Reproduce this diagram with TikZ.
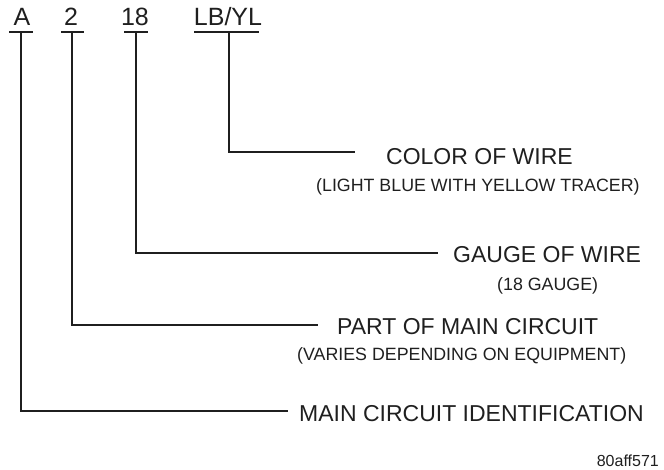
\documentclass[tikz,border=0pt]{standalone}
\usepackage{fontspec}
\setmainfont{Liberation Sans}
\begin{document}
\begin{tikzpicture}[x=1pt,y=-1pt,
  wire/.style={line width=1.8pt, black!88},
  tag/.style={font=\fontsize{25}{25}\selectfont, inner sep=0pt, anchor=base, text=black!88},
  title/.style={font=\fontsize{23}{23}\selectfont, inner sep=0pt, anchor=base west, text=black!88},
  sub/.style={font=\fontsize{17.8}{17.8}\selectfont, inner sep=0pt, anchor=base west, text=black!88},
  ref/.style={font=\fontsize{16}{16}\selectfont, inner sep=0pt, anchor=base east, text=black!88}]
\useasboundingbox (0,0) rectangle (664,469);
% top codes
\node[tag] (tA) at (22,25) {A};
\node[tag] (t2) at (71,25) {2};
\node[tag] (t18) at (135,25) {18};
\node[tag] (tLB) at (228,25) {LB/YL};
% underlines
\draw[wire] (9,32) -- (33,32);
\draw[wire] (61,32) -- (84,32);
\draw[wire] (124,32) -- (148,32);
\draw[wire] (194,32) -- (259,32);
\coordinate (uA) at (21,32);
\coordinate (u2) at (72,32);
\coordinate (u18) at (136,32);
\coordinate (uLB) at (229,32);
% descriptions
\node[title] (dColor) at (386,164) {COLOR OF WIRE};
\node[sub] (sColor) at (316,191) {(LIGHT BLUE WITH YELLOW TRACER)};
\node[title] (dGauge) at (453,262) {GAUGE OF WIRE};
\node[sub] (sGauge) at (497,290) {(18 GAUGE)};
\node[title] (dPart) at (337,334) {PART OF MAIN CIRCUIT};
\node[sub] (sPart) at (297,360) {(VARIES DEPENDING ON EQUIPMENT)};
\node[title] (dMain) at (299,421) {MAIN CIRCUIT IDENTIFICATION};
\node[ref] (code) at (659,466) {80aff571};
% line ends
\coordinate (eColor) at (355,152);
\coordinate (eGauge) at (438,253);
\coordinate (ePart) at (318,325);
\coordinate (eMain) at (288,411);
% connectors
\draw[wire] (uLB) |- (eColor);
\draw[wire] (u18) |- (eGauge);
\draw[wire] (u2) |- (ePart);
\draw[wire] (uA) |- (eMain);
\end{tikzpicture}
\end{document}
